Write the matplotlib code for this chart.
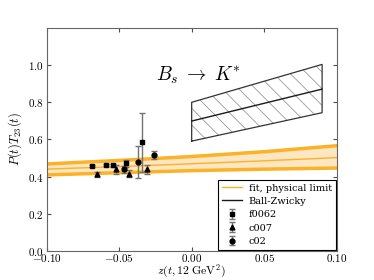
import numpy as np
import matplotlib
matplotlib.use("Agg")
import matplotlib.pyplot as plt
from matplotlib.ticker import FuncFormatter

plt.rcParams['mathtext.fontset'] = 'cm'
plt.rcParams['font.family'] = 'serif'
plt.rcParams['font.serif'] = ['DejaVu Serif']
plt.rcParams['hatch.color'] = '0.6'
plt.rcParams['hatch.linewidth'] = 0.6

# fit band (physical limit)
z_fit = [-0.10, -0.05, 0.00, 0.05, 0.10]
fit_mid = [0.440, 0.454, 0.469, 0.485, 0.502]
fit_hi = [0.468, 0.487, 0.508, 0.534, 0.566]
fit_lo = [0.409, 0.421, 0.432, 0.440, 0.446]

# Ball-Zwicky
z_bz = [0.0, 0.09]
bz_mid = [0.699, 0.871]
bz_hi = [0.800, 1.004]
bz_lo = [0.591, 0.744]

# lattice data
z_f0062 = [-0.069, -0.059, -0.054, -0.0455, -0.0345]
y_f0062 = [0.457, 0.462, 0.461, 0.471, 0.584]
e_f0062 = [0.005, 0.006, 0.008, 0.02, 0.16]

z_c007 = [-0.065, -0.052, -0.043, -0.031]
y_c007 = [0.412, 0.439, 0.416, 0.439]
e_c007 = [0.012, 0.025, 0.018, 0.025]

z_c02 = [-0.0465, -0.037, -0.026]
y_c02 = [0.439, 0.480, 0.516]
e_c02 = [0.02, 0.086, 0.02]

orange = '#fbb227'

fig, ax = plt.subplots(figsize=(3.74, 2.8), dpi=100)
fig.subplots_adjust(left=0.125, right=0.9, bottom=0.104, top=0.9)

ax.fill_between(z_fit, fit_lo, fit_hi, color='#fde6c2', lw=0)
ax.plot(z_fit, fit_hi, color=orange, lw=2.5)
ax.plot(z_fit, fit_lo, color=orange, lw=2.5)
ax.plot(z_fit, fit_mid, color=orange, lw=1, label='fit, physical limit')

ax.fill_between(z_bz, bz_lo, bz_hi, facecolor='none', edgecolor='0.6', hatch='\\\\', lw=0)
ax.plot([z_bz[0], z_bz[0], z_bz[1], z_bz[1], z_bz[0]],
        [bz_lo[0], bz_hi[0], bz_hi[1], bz_lo[1], bz_lo[0]], color='0.2', lw=0.9)
ax.plot(z_bz, bz_mid, color='0.1', lw=1, label='Ball-Zwicky')

ekw = dict(ls='none', color='k', ecolor='0.45', capsize=2, capthick=1, elinewidth=1, ms=3.5)
ax.errorbar(z_f0062, y_f0062, yerr=e_f0062, marker='s', label='f0062', **ekw)
ax.errorbar(z_c007, y_c007, yerr=e_c007, marker='^', label='c007', **ekw)
ax.errorbar(z_c02, y_c02, yerr=e_c02, marker='o', label='c02', **ekw)

ax.text(0.005, 0.945, r'$B_s\;\rightarrow\;K^{*}$', fontsize=14, ha='center', va='center')

ax.set_xlim(-0.1, 0.1)
ax.set_ylim(0, 1.2)
ax.set_xticks([-0.1, -0.05, 0, 0.05, 0.1])
ax.set_yticks([0, 0.2, 0.4, 0.6, 0.8, 1.0])
ax.xaxis.set_major_formatter(FuncFormatter(lambda v, p: r'$%.2f$' % v))
ax.yaxis.set_major_formatter(FuncFormatter(lambda v, p: r'$%.1f$' % v))
ax.tick_params(direction='in', top=True, right=True, labelsize=8, length=3, colors='0.3',
               labelcolor='k', pad=2)
ax.tick_params(axis='x', pad=1)
for s in ax.spines.values():
    s.set_color('0.4')

ax.set_xlabel(r'$z(t,12\;\mathrm{GeV}^2)$', fontsize=8.5, labelpad=-1)
ax.set_ylabel(r'$P(t)T_{23}(t)$', fontsize=9, labelpad=3)

leg = ax.legend(loc='lower right', fontsize=7, fancybox=False, framealpha=1,
                edgecolor='k', borderaxespad=0.1, handlelength=2.0, labelspacing=0.45,
                handletextpad=0.7)
leg.get_frame().set_linewidth(0.8)

fig.savefig('out.png', dpi=100)
